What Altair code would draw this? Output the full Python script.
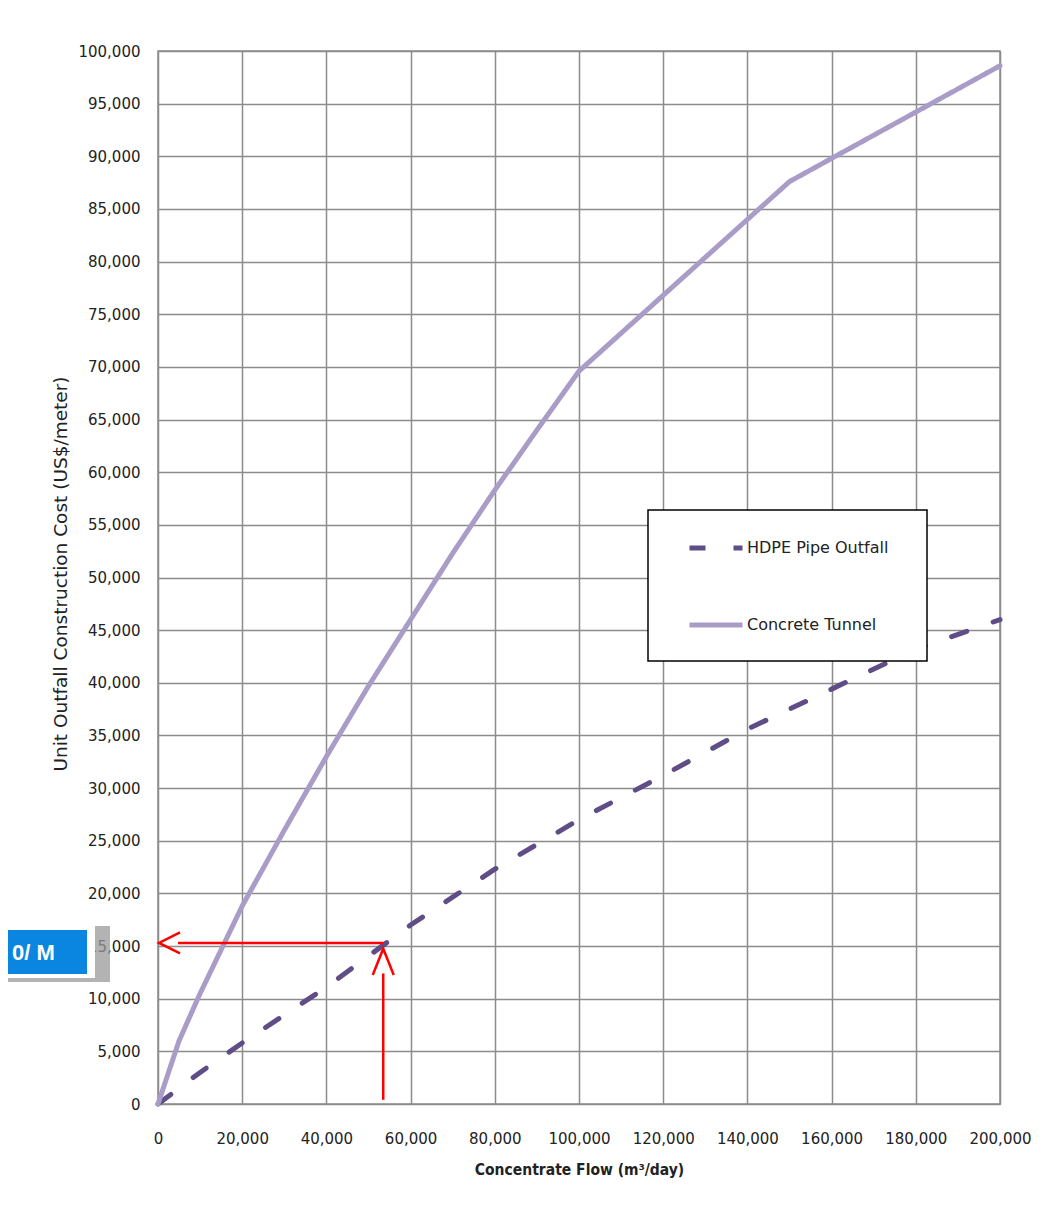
import altair as alt
import pandas as pd

# ---- data ----
series_names = ["HDPE Pipe Outfall", "Concrete Tunnel"]

flow_tunnel = [0, 5000, 10000, 20000, 30000, 40000, 50000, 60000, 70000, 80000,
               90000, 100000, 150000, 200000]
cost_tunnel = [0, 6000, 10500, 18800, 26000, 33000, 39700, 46000, 52300, 58300,
               64000, 69600, 87600, 98600]

flow_hdpe = [0, 5000, 10000, 20000, 40000, 60000, 80000, 100000, 120000, 140000,
             160000, 180000, 200000]
cost_hdpe = [0, 1500, 3000, 5800, 11100, 17000, 22300, 27000, 31200, 35600,
             39400, 43200, 46000]

x_ticks = list(range(0, 200001, 20000))
y_ticks = list(range(0, 100001, 5000))

# annotation (red arrows) positions in data units
arrow_flow = 53500
arrow_cost = 15300
arrow_h_start = 4750
arrow_h_tip = 240
arrow_v_bottom = 400
arrow_v_top = 12400
arrow_v_tip = 14750

callout_text = "0/ M"

# ---- build tables ----
rows = []
for f, c in zip(flow_hdpe, cost_hdpe):
    rows.append({"flow": f, "cost": c, "series": series_names[0]})
for f, c in zip(flow_tunnel, cost_tunnel):
    rows.append({"flow": f, "cost": c, "series": series_names[1]})
lines_df = pd.DataFrame(rows)

W, H = 842, 1053
xs = alt.Scale(domain=[0, 200000], nice=False, zero=True)
ys = alt.Scale(domain=[0, 100000], nice=False, zero=True)

x_axis = alt.Axis(values=x_ticks, format=",d", labelFont="DejaVu Sans", labelFontSize=15,
                  labelColor="#222222", grid=True, gridColor="#8c8c8c", gridWidth=1.5,
                  domain=False, ticks=False, tickSize=0, labelPadding=27,
                  labelOverlap=False, labelFlush=False,
                  title="Concentrate Flow (m³/day)", titleFont="DejaVu Sans Condensed",
                  titleFontSize=15.5, titleFontWeight="bold", titleColor="#222222",
                  titleX=W / 2, titleY=65, titleBaseline="middle", titleAlign="center")
y_axis = alt.Axis(values=y_ticks, format=",d", labelFont="DejaVu Sans", labelFontSize=15,
                  labelColor="#222222", grid=True, gridColor="#8c8c8c", gridWidth=1.5,
                  domain=False, ticks=False, tickSize=0, labelPadding=18,
                  labelOverlap=False, labelFlush=False,
                  title="Unit Outfall Construction Cost (US$/meter)", titleFont="DejaVu Sans",
                  titleFontSize=18.5, titleFontWeight="normal", titleColor="#222222",
                  titleAngle=270, titleX=-98, titleY=H / 2 - 4, titleBaseline="middle",
                  titleAlign="center")

legend = alt.Legend(title=None, orient="none", legendX=529, legendY=468,
                    padding=0, symbolOffset=0, symbolType="stroke", symbolSize=2809,
                    symbolStrokeWidth=5, labelFont="DejaVu Sans", labelFontSize=16,
                    labelColor="#222222", labelOffset=2, rowPadding=38)

lines = alt.Chart(lines_df).mark_line(strokeWidth=5, strokeCap="round").encode(
    x=alt.X("flow:Q", scale=xs, axis=x_axis),
    y=alt.Y("cost:Q", scale=ys, axis=y_axis),
    color=alt.Color("series:N", scale=alt.Scale(domain=series_names,
                                                 range=["#5e4d87", "#a99dc8"]),
                    legend=legend, sort=series_names),
    strokeDash=alt.StrokeDash("series:N", scale=alt.Scale(domain=series_names,
                                                          range=[[16, 28], [1, 0]]),
                              legend=legend, sort=series_names),
    order=alt.Order("flow:Q"),
)

one = pd.DataFrame({"k": [0]})
legend_box = alt.Chart(one).mark_rect(fill="white", stroke="black", strokeWidth=1.5).encode(
    x=alt.value(490), x2=alt.value(769), y=alt.value(459), y2=alt.value(610))

red = "#ff0000"
h_df = pd.DataFrame({"x": [arrow_h_start], "x2": [arrow_flow], "y": [arrow_cost]})
v_df = pd.DataFrame({"x": [arrow_flow], "y": [arrow_v_bottom], "y2": [arrow_v_top]})
h_rule = alt.Chart(h_df).mark_rule(color=red, strokeWidth=2.5).encode(
    x=alt.X("x:Q", scale=xs), x2="x2:Q", y=alt.Y("y:Q", scale=ys))
v_rule = alt.Chart(v_df).mark_rule(color=red, strokeWidth=2.5).encode(
    x=alt.X("x:Q", scale=xs), y=alt.Y("y:Q", scale=ys), y2="y2:Q")
left_head = alt.Chart(pd.DataFrame({"x": [arrow_h_tip], "y": [arrow_cost]})).mark_point(
    shape="M2,-1L0,0L2,1", size=441, filled=False, stroke=red, strokeWidth=2.5,
    opacity=1).encode(x=alt.X("x:Q", scale=xs), y=alt.Y("y:Q", scale=ys))
up_head = alt.Chart(pd.DataFrame({"x": [arrow_flow], "y": [arrow_v_tip]})).mark_point(
    shape="M-1,2.5L0,0L1,2.5", size=441, filled=False, stroke=red, strokeWidth=2.5,
    opacity=1).encode(x=alt.X("x:Q", scale=xs), y=alt.Y("y:Q", scale=ys))

shadow = alt.Chart(one).mark_rect(color="#9a9a9a", opacity=0.75).encode(
    x=alt.value(-150), x2=alt.value(-48), y=alt.value(875), y2=alt.value(931))
white_box = alt.Chart(one).mark_rect(color="white").encode(
    x=alt.value(-150), x2=alt.value(-63), y=alt.value(870), y2=alt.value(927))
blue_box = alt.Chart(one).mark_rect(color="#0a86e0").encode(
    x=alt.value(-150), x2=alt.value(-71), y=alt.value(879), y2=alt.value(923))
box_text = alt.Chart(one).mark_text(text=callout_text, align="left", baseline="middle",
                                    font="Liberation Sans", fontSize=22, fontWeight="bold",
                                    color="white").encode(
    x=alt.value(-146), y=alt.value(902))

chart = alt.layer(lines, legend_box, h_rule, v_rule, left_head, up_head,
                  shadow, white_box, blue_box, box_text).properties(
    width=W, height=H,
    autosize=alt.AutoSizeParams(type="none"),
    padding={"left": 150, "top": 43, "right": 43, "bottom": 100},
    background="white",
).configure_view(stroke="#8c8c8c", strokeWidth=1.5)

chart.save("out.html", embed_options={"renderer": "svg", "actions": False})
